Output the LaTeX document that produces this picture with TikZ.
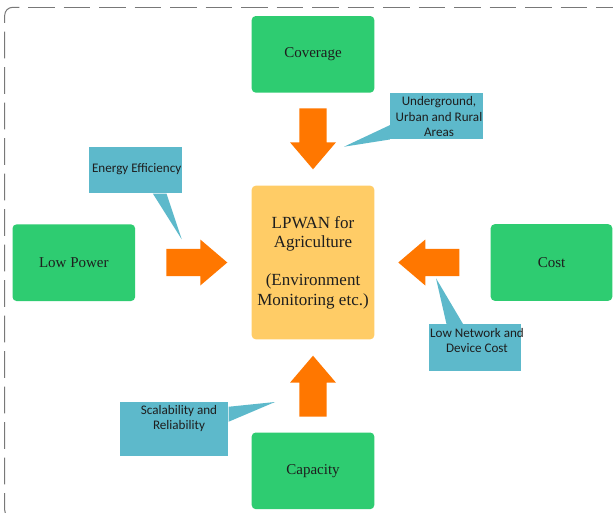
\documentclass[tikz,border=0pt]{standalone}
\usepackage{fontspec}
\setmainfont{Liberation Serif}
\newfontfamily\calibri{Carlito}
\definecolor{boxgreen}{RGB}{46,204,113}
\definecolor{arrorange}{RGB}{255,119,0}
\definecolor{callblue}{RGB}{93,185,203}
\definecolor{coreyellow}{RGB}{255,204,102}
\definecolor{bordergray}{RGB}{120,120,120}
\definecolor{txt}{RGB}{30,30,30}
\tikzset{
  greenbox/.style={fill=boxgreen, rounded corners=4pt, minimum width=122.6pt,
    minimum height=76.6pt, inner sep=0pt, text=txt, font=\fontsize{15}{18}\selectfont},
  corebox/.style={fill=coreyellow, rounded corners=4pt, minimum width=122.6pt,
    minimum height=153.6pt, inner sep=0pt, align=center, text=txt,
    font=\fontsize{17}{19.2}\selectfont},
  callbox/.style={fill=callblue, inner sep=0pt},
  calltext/.style={font=\calibri\fontsize{13.1}{15.2}\selectfont, align=center,
    text=txt, inner sep=0pt},
  borderline/.style={draw=bordergray, line width=1pt, dash pattern=on 26.6pt off 8.9pt},
  pics/blockarr/.style={code={
    \fill[arrorange] (0,-13.7) -- (34,-13.7) -- (34,-23) -- (61,0) -- (34,23)
      -- (34,13.7) -- (0,13.7) -- cycle;}}
}
\begin{document}
\begin{tikzpicture}[x=1pt,y=-1pt]
\useasboundingbox (0,0) rectangle (613,512);
\clip (0,0) rectangle (613,512);
\fill[white] (0,0) rectangle (613,512);

% dashed frame
\draw[borderline, rounded corners=8pt] (19.3,7.3) -- (4.7,7.3) -- (4.7,518) -- (700,518);
\draw[borderline, dash phase=26.6pt] (19.3,7.3) -- (700,7.3);

% main boxes
\node[greenbox] (cov) at (313,54.3) {Coverage};
\node[corebox] (core) at (313,262.5) {LPWAN for\\Agriculture\\[19.2pt](Environment\\Monitoring etc.)};
\node[greenbox] (lowp) at (73.8,262.7) {Low Power};
\node[greenbox, minimum width=121.6pt] (cost) at (551.5,262.5) {Cost};
\node[greenbox] (cap) at (313,470.8) {Capacity};

% block arrows
\pic at (313,108.3) [rotate=-90] {blockarr};
\pic at (166.3,262.5) {blockarr};
\pic at (459.3,262.5) [rotate=180] {blockarr};
\pic at (313,416.7) [rotate=90] {blockarr};

% callouts
\node[callbox, minimum width=92.7pt, minimum height=46pt] (ug) at (436.3,116.3) {};
\coordinate (ugtip) at (344,146.7);
\fill[callblue] ([yshift=14.3pt]ug.south west) -- (ugtip) -- (ug.south west) -- cycle;
\node[calltext] (ugt) at (439,116.5) {Underground,\\Urban and Rural\\Areas};

\node[callbox, minimum width=92.4pt, minimum height=46.6pt] (ee) at (135.5,170) {};
\coordinate (eetip) at (181.7,239.3);
\fill[callblue] ([xshift=63.7pt]ee.south west) -- (eetip) -- ([xshift=77.4pt]ee.south west) -- cycle;
\node[calltext] (eet) at (136.7,169.3) {Energy Efficiency};

\node[callbox, minimum width=92.6pt, minimum height=46.4pt] (ln) at (475,347.5) {};
\coordinate (lntip) at (436,278.3);
\fill[callblue] ([xshift=18pt]ln.north west) -- (lntip) -- ([xshift=34.6pt]ln.north west) -- cycle;
\node[calltext] (lnt) at (477,340.8) {Low Network and\\Device Cost};

\node[callbox, minimum width=108.3pt, minimum height=53.7pt] (sr) at (174.2,428.8) {};
\coordinate (srtip) at (275,402);
\fill[callblue] ([yshift=-5pt]sr.north east) -- (srtip) -- ([yshift=-20pt]sr.north east) -- cycle;
\node[calltext] (srt) at (179,418.8) {Scalability and\\Reliability};
\end{tikzpicture}
\end{document}
